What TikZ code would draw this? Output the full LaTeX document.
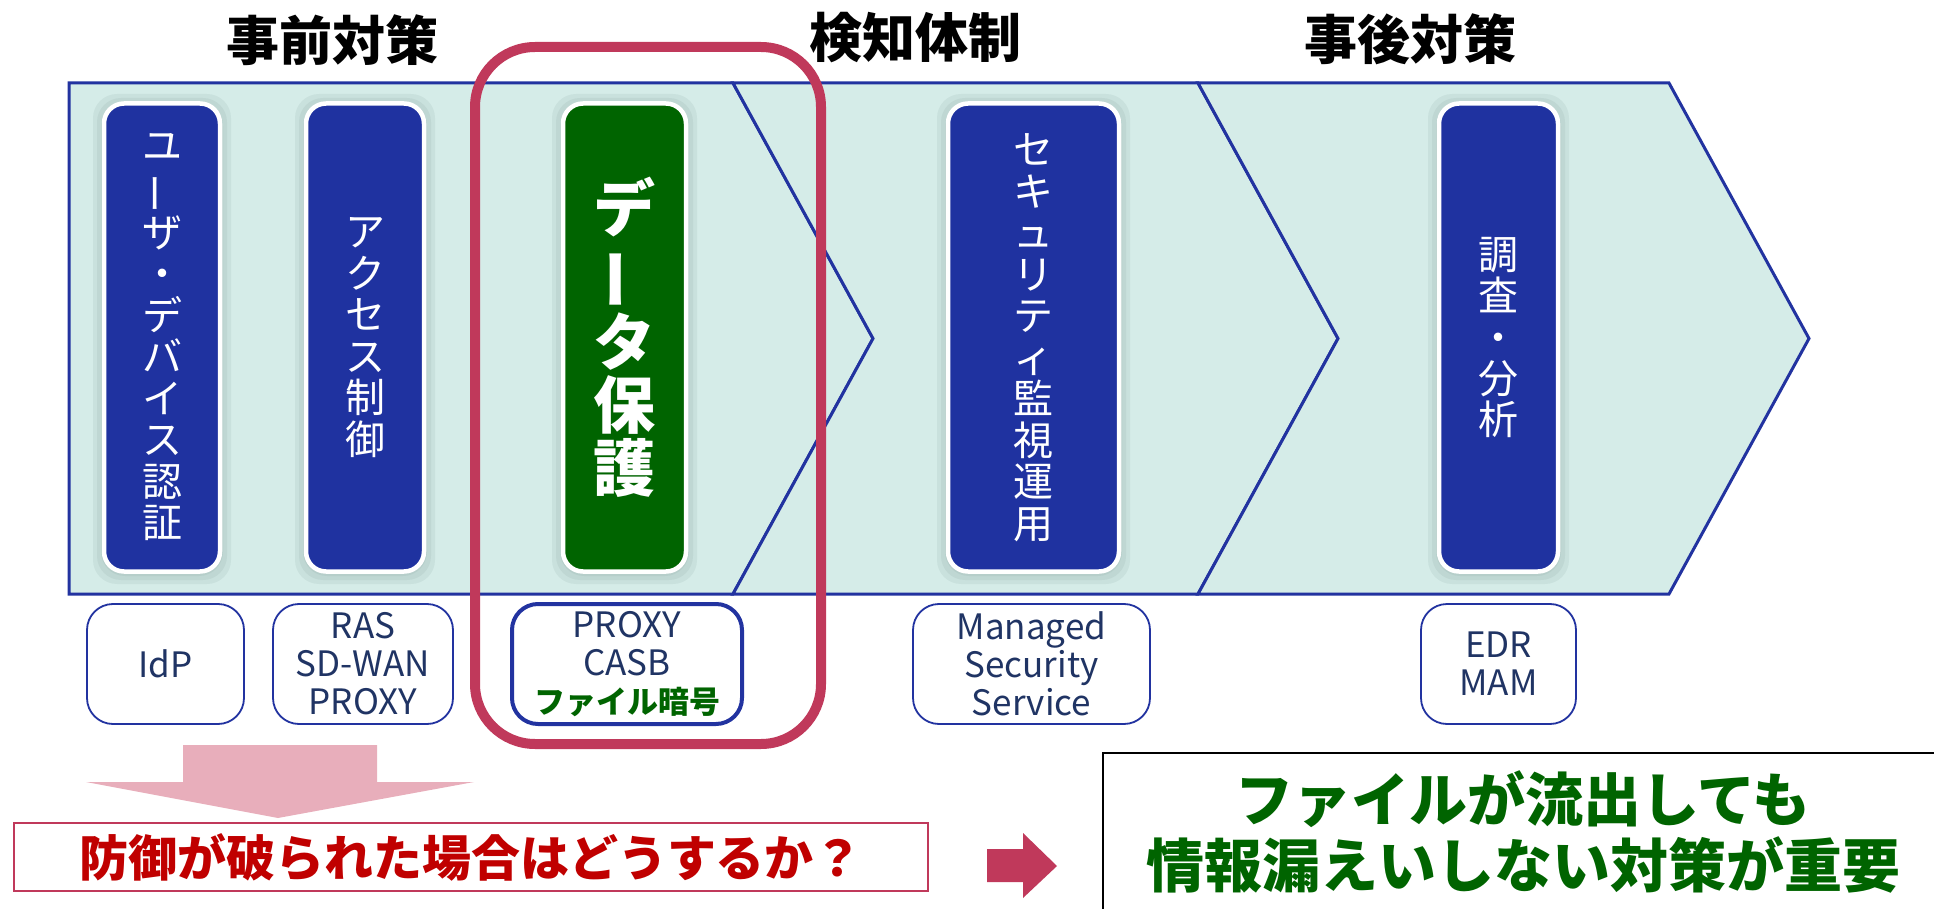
\documentclass[tikz,border=0pt]{standalone}
\usepackage{fontspec}
\usepackage{graphicx}
\setmainfont{Noto Sans CJK JP}
\definecolor{bandfill}{RGB}{213,236,232}
\definecolor{bandline}{RGB}{34,51,160}
\definecolor{pillblue}{RGB}{31,50,160}
\definecolor{pillgreen}{RGB}{0,100,0}
\definecolor{navytxt}{RGB}{32,52,100}
\definecolor{crim}{RGB}{192,57,91}
\definecolor{pinkarrow}{RGB}{232,174,187}
\definecolor{redtxt}{RGB}{192,0,0}
\definecolor{glowc}{RGB}{110,140,135}
\newcommand\vbar{\rotatebox[origin=c]{90}{ー}}
\tikzset{
  band/.style={fill=bandfill, draw=bandline, line width=1.5pt, line join=miter},
  pill/.style={draw=white, line width=2.25pt, rounded corners=10pt, inner sep=0pt, align=center, text=white},
  glow/.style={fill=glowc, opacity=0.11, rounded corners=12pt, inner sep=0pt},
  thinv/.style={font=\fontsize{20}{20.75}\selectfont},
  boldv/.style={font=\bfseries\fontsize{31}{31.5}\selectfont},
  toolbox/.style={draw=bandline, line width=0.9pt, rounded corners=13pt, fill=white, inner sep=0pt, align=center, text=navytxt, font=\fontsize{17.5}{19}\selectfont, minimum height=60pt},
  title/.style={font=\bfseries\fontsize{26.5}{28}\selectfont, text=black, inner sep=0pt}
}
\newcommand\mypill[6]{%
  \foreach \g in {3,7,11}{\node[glow, minimum width=#3pt+\g pt, minimum height=234pt+\g pt] at (#2,339) {};}
  \node[pill, fill=#4, #5, minimum width=#3pt, minimum height=234pt] (#1) at (#2,337.5) {#6};
}
\begin{document}
\begin{tikzpicture}[x=0.5pt,y=-0.5pt]
\useasboundingbox (0,0) rectangle (1934,909);
\clip (0,0) rectangle (1934,909);
% titles
\node[title] (t1) at (332,40) {事前対策};
\node[title] (t2) at (915,38) {検知体制};
\node[title] (t3) at (1410,39) {事後対策};
% chevron band
\draw[band] (69,83) -- (733,83) -- (873,338.5) -- (733,594) -- (69,594) -- cycle;
\draw[band] (733,83) -- (1198,83) -- (1338,338.5) -- (1198,594) -- (733,594) -- (873,338.5) -- cycle;
\draw[band] (1198,83) -- (1669,83) -- (1809,338.5) -- (1669,594) -- (1198,594) -- (1338,338.5) -- cycle;
% pills
\mypill{p1}{162}{58}{pillblue}{thinv}{ユ\\\vbar\\ザ\\・\\デ\\バ\\イ\\ス\\認\\証}
\mypill{p2}{365}{59}{pillblue}{thinv}{ア\\ク\\セ\\ス\\制\\御}
\mypill{p3}{624.5}{61.5}{pillgreen}{boldv}{デ\\\vbar\\タ\\保\\護}
\mypill{p4}{1033.5}{85.5}{pillblue}{thinv}{セ\\キ\\ュ\\リ\\テ\\ィ\\監\\視\\運\\用}
\mypill{p5}{1498.5}{59.5}{pillblue}{thinv}{調\\査\\・\\分\\析}
% tool boxes
\node[toolbox, minimum width=78.5pt] (b1) at (165.5,664) {IdP};
\node[toolbox, minimum width=90pt] (b2) at (363,664) {RAS\\SD-WAN\\PROXY};
\node[toolbox, minimum width=115pt, line width=2pt] (b3) at (627,664) {PROXY\\CASB\\{\color{pillgreen}\bfseries\fontsize{15.5}{19}\selectfont ファイル暗号}};
\node[toolbox, minimum width=118.5pt] (b4) at (1031.5,664) {Managed\\Security\\Service};
\node[toolbox, minimum width=77.5pt] (b5) at (1498.5,664) {EDR\\MAM};
% highlight frame
\draw[crim, line width=5pt, rounded corners=30pt] (475,47) rectangle (821,744);
% pink down arrow
\fill[pinkarrow] (183,745) -- (377,745) -- (377,782) -- (474,782) -- (278,818) -- (86,782) -- (183,782) -- cycle;
% question box
\node[draw=crim, line width=1pt, minimum width=457pt, minimum height=34pt, inner sep=0pt, text=redtxt, font=\bfseries\fontsize{24.5}{26}\selectfont] (q) at (471,857) {防御が破られた場合はどうするか？};
% red right arrow
\fill[crim] (987,849) -- (1023,849) -- (1023,833) -- (1057,866) -- (1023,898) -- (1023,882) -- (987,882) -- cycle;
% conclusion box
\draw[black, line width=1pt] (1103,753) rectangle (1960,940);
\node[align=center, inner sep=0pt, text=pillgreen, font=\bfseries\fontsize{29}{33}\selectfont] (c) at (1523,832) {ファイルが流出しても\\情報漏えいしない対策が重要};
\end{tikzpicture}
\end{document}
